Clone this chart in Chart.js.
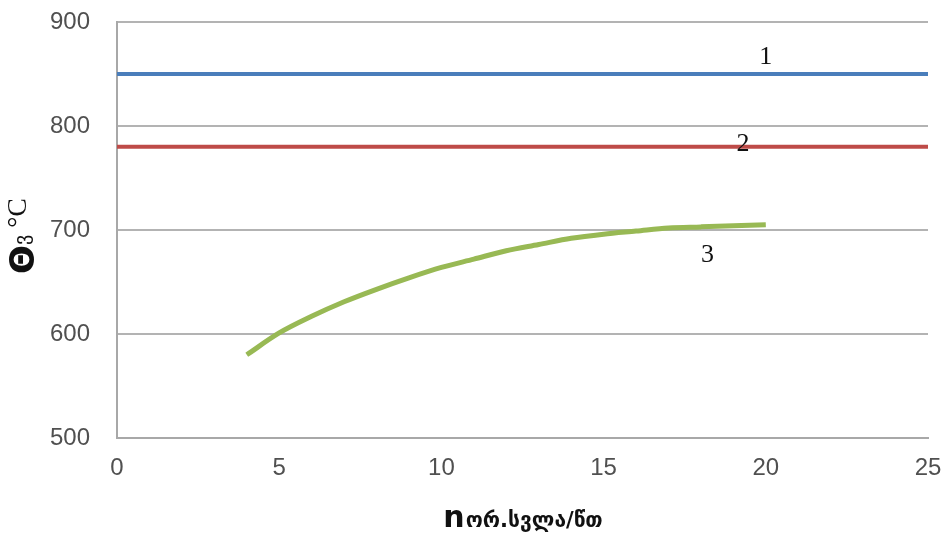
<!DOCTYPE html>
<html>
<head>
<meta charset="utf-8">
<script src="https://cdn.jsdelivr.net/npm/chart.js@4"></script>
<style>
  html, body { margin: 0; padding: 0; background: #fff; }
  #wrap { width: 947px; height: 538px; }
</style>
</head>
<body>
<div id="wrap"><canvas id="myChart" width="947" height="538"></canvas></div>
<script>
// data
const line1Value = 850;
const line2Value = 780;
const lineSpan = [0, 25];
const curveX = [4, 5, 6, 7, 8, 9, 10, 11, 12, 13, 14, 15, 16, 17, 18, 19, 20];
const curveY = [580, 601, 617, 631, 643, 654, 664, 672, 680, 686, 692, 696, 699, 702, 703, 704, 705];
const curveNames = ["1", "2", "3"];
const yTitle = ["Θ", "ვ", " °C"];
const xTitle = ["n", "ორ.სვლა/წთ"];

const colors = ["#4a7ebb", "#be4b48", "#98b954"];

function toPoints(xs, ys) {
    return xs.map((x, i) => ({ x: x, y: ys[i] }));
}

// where the curve numbers sit (data coords)
const labelSpots = [
    { x: 20, y: 866 },
    { x: 19.3, y: 783 },
    { x: 18.2, y: 676 },
];

const annotate = {
    id: "annotate",
    afterDraw(chart) {
        const c = chart.ctx;
        const xs = chart.scales.x, ys = chart.scales.y;
        const area = chart.chartArea;
        c.save();
        c.fillStyle = "#111";
        c.font = "26px 'Liberation Serif'";
        c.textAlign = "center";
        c.textBaseline = "middle";
        curveNames.forEach((n, i) => {
            c.fillText(n, xs.getPixelForValue(labelSpots[i].x), ys.getPixelForValue(labelSpots[i].y));
        });

        // y title, rotated
        c.translate(22, (area.top + area.bottom) / 2 + 6);
        c.rotate(-Math.PI / 2);
        c.textAlign = "left";
        c.textBaseline = "alphabetic";
        const f0 = "bold 34px 'DejaVu Sans'";
        const f1 = "20px 'DejaVu Sans'";
        const f2 = "28px 'Liberation Serif'";
        c.font = f0; const w0 = c.measureText(yTitle[0]).width;
        c.font = f1; const w1 = c.measureText(yTitle[1]).width;
        c.font = f2; const w2 = c.measureText(yTitle[2]).width;
        let x = -(w0 + w1 + w2) / 2;
        c.font = f0; c.fillText(yTitle[0], x, 12); x += w0;
        c.font = f1; c.fillText(yTitle[1], x, 6); x += w1;
        c.font = f2; c.fillText(yTitle[2], x, 4);
        c.restore();

        // x title
        c.save();
        c.fillStyle = "#111";
        c.textBaseline = "alphabetic";
        const g0 = "bold 30px 'DejaVu Sans'";
        const g1 = "bold 21px 'DejaVu Sans'";
        c.font = g0; const v0 = c.measureText(xTitle[0]).width;
        c.font = g1; const v1 = c.measureText(xTitle[1]).width;
        let sx = (area.left + area.right) / 2 - (v0 + v1) / 2;
        c.font = g0; c.fillText(xTitle[0], sx, 527); sx += v0 + 1;
        c.font = g1; c.fillText(xTitle[1], sx, 527);
        c.restore();
    }
};

const data = {
    datasets: [
        {
            data: toPoints(lineSpan, [line1Value, line1Value]),
            borderColor: colors[0],
            borderWidth: 4,
        },
        {
            data: toPoints(lineSpan, [line2Value, line2Value]),
            borderColor: colors[1],
            borderWidth: 4,
        },
        {
            data: toPoints(curveX, curveY),
            borderColor: colors[2],
            borderWidth: 5,
            cubicInterpolationMode: "monotone",
        },
    ]
};

const tickFont = { family: "'Liberation Sans'", size: 24 };

const options = {
    responsive: false,
    animation: false,
    layout: { padding: { top: 22, right: 19, left: 0, bottom: 0 } },
    elements: { point: { radius: 0 }, line: { fill: false } },
    plugins: { legend: { display: false }, tooltip: { enabled: false } },
    scales: {
        x: {
            type: "linear",
            min: 0,
            max: 25,
            ticks: { stepSize: 5, color: "#505050", font: tickFont, padding: 16, maxRotation: 0 },
            grid: { display: false, drawTicks: false },
            border: { color: "#a8a8a8", width: 2 },
            afterFit(s) { s.height = 100; s.paddingLeft = 0; s.paddingRight = 0; },
        },
        y: {
            min: 500,
            max: 900,
            ticks: { stepSize: 100, color: "#505050", font: tickFont, padding: 27 },
            grid: { color: "#b3b3b3", lineWidth: 2, drawTicks: false },
            border: { color: "#a8a8a8", width: 2 },
            afterFit(s) { s.width = 117; s.paddingTop = 0; s.paddingBottom = 0; },
        },
    },
};

var ctx = document.getElementById("myChart").getContext("2d");
var myChart = new Chart(ctx, {
    type: "line",
    data: data,
    options: options,
    plugins: [annotate],
});
</script>
</body>
</html>
